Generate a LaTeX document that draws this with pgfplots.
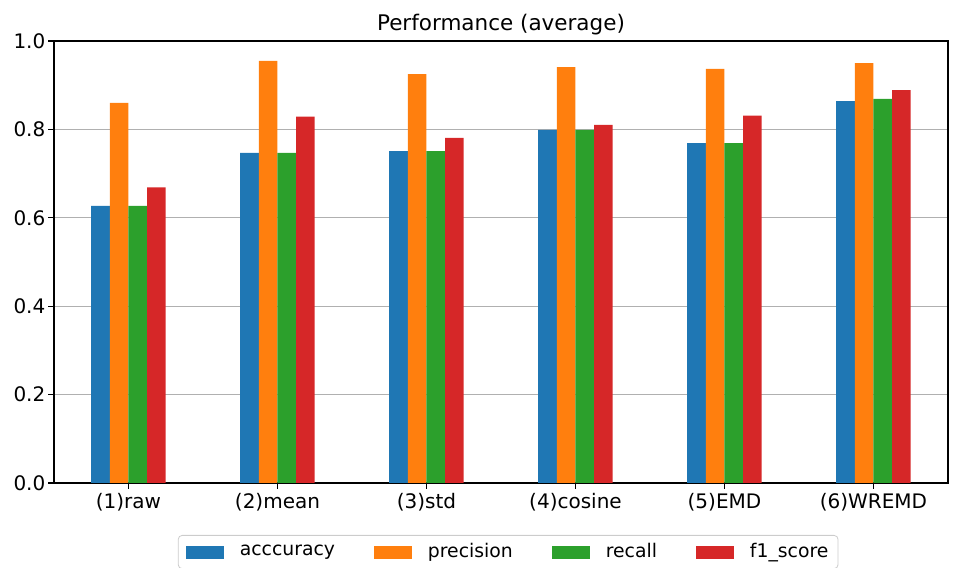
\documentclass[border=0pt]{standalone}
\usepackage{pgfplots}
\pgfplotsset{compat=1.18}
\usepackage{fontspec}
\setmainfont{DejaVu Sans}
\definecolor{c1}{HTML}{1F77B4}
\definecolor{c2}{HTML}{FF7F0E}
\definecolor{c3}{HTML}{2CA02C}
\definecolor{c4}{HTML}{D62728}
\definecolor{gridc}{HTML}{B0B0B0}
\definecolor{legc}{HTML}{CCCCCC}
\begin{document}
\begin{tikzpicture}
\begin{axis}[
  at={(0,0)}, anchor=south west,
  scale only axis, width=447pt, height=221pt,
  xmin=-0.5, xmax=5.5, ymin=0, ymax=1,
  xtick={0,1,2,3,4,5},
  xticklabels={(1)raw,(2)mean,(3)std,(4)cosine,(5)EMD,(6)WREMD},
  ytick={0,0.2,0.4,0.6,0.8,1.0},
  yticklabel style={/pgf/number format/fixed, /pgf/number format/fixed zerofill, /pgf/number format/precision=1, xshift=2pt},
  xticklabel style={yshift=1pt},
  /pgf/number format/assume math mode=true,
  ymajorgrids, grid style={color=gridc, line width=0.64pt},
  axis line style={line width=0.64pt, black},
  tick style={black, line width=0.64pt},
  major tick length=2.8pt, tick align=outside,
  xtick pos=bottom, ytick pos=left,
  tick label style={font=\fontsize{10}{12}\selectfont},
  title={Performance (average)},
  every axis title/.style={at={(0.5,1)}, anchor=base, yshift=5pt, font=\fontsize{10.75}{13}\selectfont},
  ybar,
  legend columns=4,
  legend style={at={(0.508,-0.1176)}, anchor=north, draw=legc, rounded corners=2pt,
    font=\fontsize{9.4}{11}\selectfont, inner xsep=3.8pt, inner ysep=3pt,
    nodes={inner sep=1pt},
    /tikz/every odd column/.append style={column sep=7pt},
    /tikz/every even column/.append style={column sep=18.5pt}},
  legend image code/.code={\fill[#1, sharp corners] (0pt,-3.25pt) rectangle (19pt,3.25pt);},
]
\addplot[ybar, bar width=0.125, bar shift=-0.1875, fill=c1, draw=none] coordinates {(0,0.627) (1,0.747) (2,0.751) (3,0.799) (4,0.769) (5,0.864)};
\addlegendentry{acccuracy}
\addplot[ybar, bar width=0.125, bar shift=-0.0625, fill=c2, draw=none] coordinates {(0,0.860) (1,0.955) (2,0.925) (3,0.941) (4,0.937) (5,0.950)};
\addlegendentry{precision}
\addplot[ybar, bar width=0.125, bar shift=0.0625, fill=c3, draw=none] coordinates {(0,0.627) (1,0.747) (2,0.751) (3,0.799) (4,0.769) (5,0.869)};
\addlegendentry{recall}
\addplot[ybar, bar width=0.125, bar shift=0.1875, fill=c4, draw=none] coordinates {(0,0.669) (1,0.829) (2,0.781) (3,0.810) (4,0.831) (5,0.889)};
\addlegendentry{f1\_score}
\end{axis}
\pgfresetboundingbox
\path[use as bounding box] (-27pt,-42.5pt) rectangle (456pt,241.5pt);
\end{tikzpicture}
\end{document}
